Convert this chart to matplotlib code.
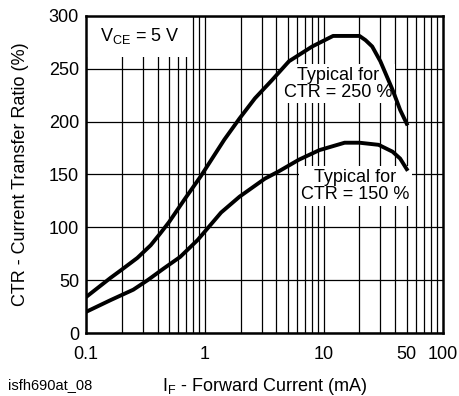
import numpy as np
import matplotlib
matplotlib.use('Agg')
import matplotlib.pyplot as plt
from matplotlib.patches import Rectangle

plt.rcParams['font.family'] = ['Liberation Sans', 'DejaVu Sans']

# CTR = 250 % typical curve
if_250 = [0.1, 0.16, 0.2, 0.27, 0.35, 0.42, 0.5, 0.68, 0.92, 1.46, 1.96, 2.64,
          3.66, 5.1, 8.0, 12, 20, 22.5, 25.6, 30, 38, 44, 50]
ctr_250 = [34, 52, 60, 71, 83, 94, 105, 127, 148, 183, 203, 222,
           239, 257, 271, 281, 281, 277, 271, 257, 230, 211, 198]

# CTR = 150 % typical curve
if_150 = [0.1, 0.16, 0.25, 0.33, 0.45, 0.62, 0.87, 1.0, 1.37, 1.96, 3.2, 4.2,
          6.2, 9.2, 15, 20, 29, 38, 44, 50]
ctr_150 = [20, 31, 41, 50, 61, 72, 88, 96, 114, 129, 146, 153,
           164, 173, 180, 180, 178, 171.5, 165, 155]

xticks = [0.1, 1, 10, 50, 100]
xticklabels = ['0.1', '1', '10', '50', '100']
yticks = [0, 50, 100, 150, 200, 250, 300]

fig = plt.figure(figsize=(4.6, 3.96), dpi=100)
ax = fig.add_axes([0.187, 0.159, 0.775, 0.801])

ax.set_xscale('log')
ax.set_xlim(0.1, 100)
ax.set_ylim(0, 300)

# grid: every decade step vertically, every 50 horizontally
for dec in [0.1, 1, 10]:
    for m in range(1, 10):
        ax.axvline(dec * m, color='black', lw=0.9, zorder=1)
for y in yticks:
    ax.axhline(y, color='black', lw=0.9, zorder=1)

ax.plot(if_250, ctr_250, color='black', lw=2.8, zorder=4, solid_joinstyle='round')
ax.plot(if_150, ctr_150, color='black', lw=2.8, zorder=4, solid_joinstyle='round')

# VCE box in the top-left corner
ax.add_patch(Rectangle((0, 0.871), 0.292, 0.129, transform=ax.transAxes,
                       facecolor='white', edgecolor='none', zorder=2))
ax.text(0.04, 0.935, r'V$_\mathregular{CE}$ = 5 V', transform=ax.transAxes,
        fontsize=13, va='center', ha='left', zorder=3)

box = dict(boxstyle='square,pad=0.15', fc='white', ec='none')
ax.text(13.2, 236, 'Typical for\nCTR = 250 %', fontsize=13, ha='center',
        va='center', linespacing=1.0, bbox=box, zorder=2)
ax.text(18.5, 139, 'Typical for\nCTR = 150 %', fontsize=13, ha='center',
        va='center', linespacing=1.0, bbox=box, zorder=2)

ax.set_xticks(xticks)
ax.set_xticklabels(xticklabels)
ax.xaxis.set_minor_locator(plt.NullLocator())
ax.set_yticks(yticks)
ax.tick_params(length=0, labelsize=13)
ax.tick_params(axis='x', pad=9)
ax.tick_params(axis='y', pad=5)

for s in ax.spines.values():
    s.set_linewidth(1.8)
    s.set_zorder(5)

ax.set_xlabel(r'I$_\mathregular{F}$ - Forward Current (mA)', fontsize=13, labelpad=10)
ax.set_ylabel('CTR - Current Transfer Ratio (%)', fontsize=13, labelpad=14)

fig.text(0.018, 0.028, 'isfh690at_08', fontsize=10.5, ha='left', va='center')

fig.savefig('out.png', dpi=100)
